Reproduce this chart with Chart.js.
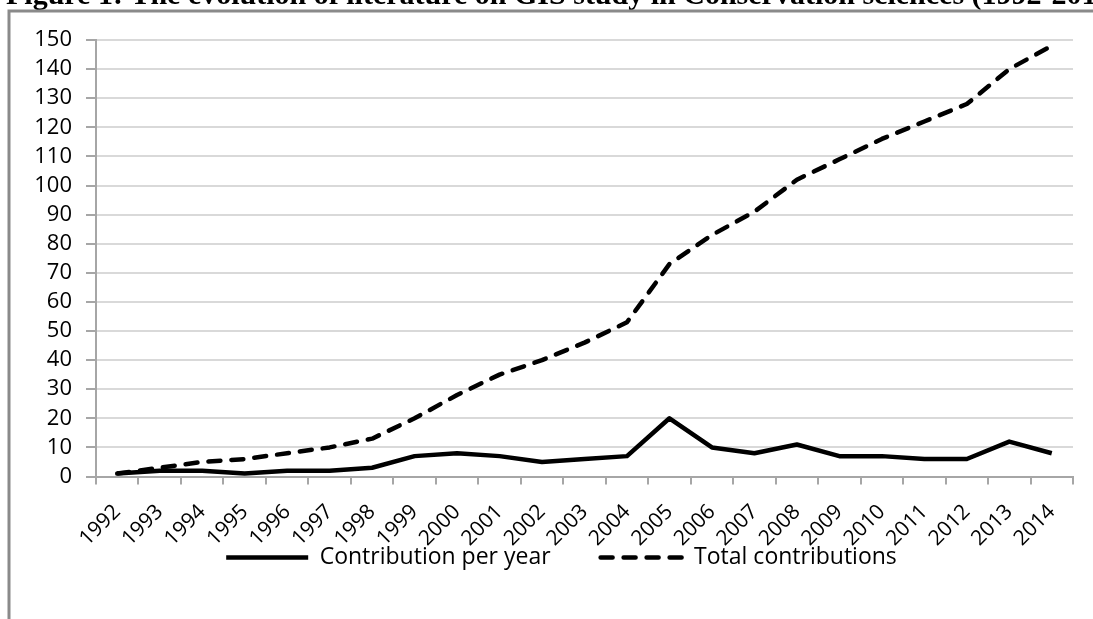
<!DOCTYPE html>
<html>
<head>
<meta charset="utf-8">
<script src="https://cdn.jsdelivr.net/npm/chart.js@4/dist/chart.umd.min.js"></script>
<style>
  html, body { margin: 0; padding: 0; background: #fff; }
  #wrap { width: 1093px; height: 619px; position: relative; }
</style>
</head>
<body>
<div id="wrap"><canvas id="chart"></canvas></div>
<script>
// data
const years = ['1992', '1993', '1994', '1995', '1996', '1997', '1998', '1999', '2000', '2001', '2002', '2003',
               '2004', '2005', '2006', '2007', '2008', '2009', '2010', '2011', '2012', '2013', '2014'];
const perYear = [1, 2, 2, 1, 2, 2, 3, 7, 8, 7, 5, 6, 7, 20, 10, 8, 11, 7, 7, 6, 6, 12, 8];
const totals = [1, 3, 5, 6, 8, 10, 13, 20, 28, 35, 40, 46, 53, 73, 83, 91, 102, 109, 116, 122, 128, 140, 148];
const yTicks = [0, 10, 20, 30, 40, 50, 60, 70, 80, 90, 100, 110, 120, 130, 140, 150];

const titleText = 'Figure 1: The evolution of literature on GIS study in Conservation sciences (1992-2014)';

// title cut off at the top + the grey frame of the scanned page
const framePlugin = {
  id: 'frame',
  afterDraw(chart) {
    const ctx = chart.ctx;
    ctx.save();
    ctx.setTransform(1, 0, 0, 1, 0, 0);
    ctx.fillStyle = '#000';
    ctx.font = 'bold 30px "Liberation Serif", serif';
    ctx.textAlign = 'left';
    ctx.textBaseline = 'alphabetic';
    ctx.fillText(titleText, 6, 4);
    ctx.strokeStyle = '#8a8a8a';
    ctx.lineWidth = 3;
    ctx.beginPath();
    ctx.moveTo(9, 619);
    ctx.lineTo(9, 11);
    ctx.lineTo(1093, 11);
    ctx.stroke();
    ctx.restore();
  }
};

const font = 'Open Sans';
// let tick labels spill outside their scale box
const noLabelClip = scale => { scale._computeLabelArea = () => undefined; };

new Chart(document.getElementById('chart'), {
  type: 'line',
  data: {
    labels: years,
    datasets: [{
      label: 'Contribution per year',
      data: perYear,
      borderColor: '#000',
      backgroundColor: '#000',
      borderWidth: 4.5,
      borderJoinStyle: 'round',
      pointRadius: 0,
      tension: 0
    }, {
      label: 'Total contributions',
      data: totals,
      borderColor: '#000',
      backgroundColor: '#000',
      borderWidth: 4.5,
      borderDash: [12, 11],
      borderCapStyle: 'round',
      borderJoinStyle: 'round',
      pointRadius: 0,
      tension: 0
    }]
  },
  options: {
    responsive: true,
    maintainAspectRatio: false,
    animation: false,
    layout: { padding: { left: 50, top: 40, right: 20, bottom: 40 } },
    plugins: {
      tooltip: { enabled: false },
      legend: {
        position: 'bottom',
        labels: {
          usePointStyle: true,
          pointStyle: 'line',
          pointStyleWidth: 82,
          padding: 50,
          color: '#000',
          font: { family: font, size: 23 },
          generateLabels(chart) {
            return chart.data.datasets.map((ds, i) => ({
              text: ds.label,
              datasetIndex: i,
              strokeStyle: ds.borderColor,
              fillStyle: ds.borderColor,
              lineWidth: ds.borderWidth,
              lineDash: ds.borderDash || [],
              lineCap: ds.borderDash ? 'round' : 'butt',
              pointStyle: 'line',
              fontColor: '#000'
            }));
          }
        }
      }
    },
    scales: {
      x: {
        offset: true,
        afterFit(scale) { scale.height = 19.5; noLabelClip(scale); },
        grid: {
          offset: true,
          drawOnChartArea: false,
          color: '#a6a6a6',
          lineWidth: 2,
          tickLength: 8
        },
        border: { color: '#a6a6a6', width: 2 },
        ticks: {
          minRotation: 45,
          maxRotation: 45,
          autoSkip: false,
          padding: 15,
          color: '#000',
          font: { family: font, size: 21 }
        }
      },
      y: {
        min: 0,
        max: 150,
        afterFit(scale) { scale.width = 46; noLabelClip(scale); },
        afterBuildTicks(scale) { scale.ticks = yTicks.map(v => ({ value: v })); },
        grid: {
          color: '#d9d9d9',
          lineWidth: 2,
          tickLength: 10,
          tickColor: '#a6a6a6'
        },
        border: { color: '#a6a6a6', width: 2 },
        ticks: {
          autoSkip: false,
          padding: 14,
          color: '#000',
          font: { family: font, size: 22 }
        }
      }
    }
  },
  plugins: [framePlugin]
});
</script>
</body>
</html>
